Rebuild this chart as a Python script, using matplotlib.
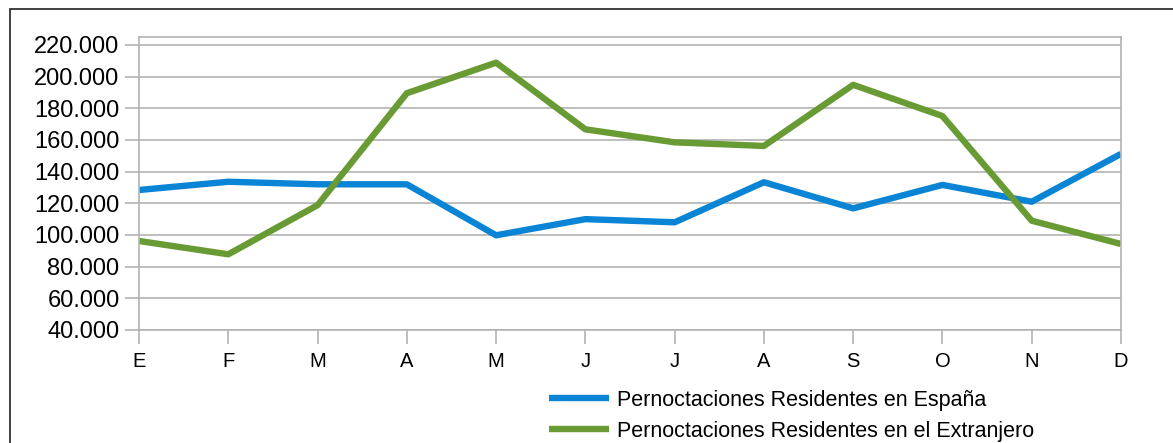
import numpy as np
import matplotlib.pyplot as plt
from matplotlib.patches import Rectangle
from matplotlib.ticker import FuncFormatter

plt.rcParams['font.family'] = ['Liberation Sans', 'DejaVu Sans']

# Data
meses = ['E', 'F', 'M', 'A', 'M', 'J', 'J', 'A', 'S', 'O', 'N', 'D']
espana = [128400, 133600, 132000, 132000, 99800, 110000, 108000, 133300, 116800, 131600, 121000, 151200]
extranjero = [96200, 87800, 118800, 189500, 208800, 166700, 158500, 156200, 194800, 175100, 109000, 94300]

azul = '#0a84d4'
verde = '#699b34'
gris = '#b3b3b3'

W, H = 1173, 443
fig = plt.figure(figsize=(W / 100, H / 100), dpi=100)
ax = fig.add_axes([139 / W, 1 - 330 / H, 982 / W, 293 / H])

x = np.arange(len(meses))
ax.plot(x, espana, color=azul, lw=4.6, solid_capstyle='butt',
        label='Pernoctaciones Residentes en España')
ax.plot(x, extranjero, color=verde, lw=4.6, solid_capstyle='butt',
        label='Pernoctaciones Residentes en el Extranjero')

ax.set_xlim(0, len(meses) - 1)
ax.set_ylim(40000, 225000)
ax.set_yticks(np.arange(40000, 220001, 20000))
ax.yaxis.set_major_formatter(FuncFormatter(lambda v, p: f'{int(v):,}'.replace(',', '.')))
ax.set_xticks(x)
ax.set_xticklabels(meses)

ax.grid(axis='y', color=gris, lw=1.2)
ax.set_axisbelow(True)
for s in ax.spines.values():
    s.set_color(gris)
    s.set_linewidth(1.2)
ax.tick_params(axis='y', length=10, width=1.2, color=gris, labelsize=17, pad=4)
ax.tick_params(axis='x', length=10, width=1.2, color=gris, labelsize=14.5, pad=6)

fig.legend(loc='upper left', bbox_to_anchor=(549 / W, 1 - 390 / H), frameon=False,
           fontsize=15.5, handlelength=2.8, handletextpad=0.37, labelspacing=0.45,
           borderaxespad=0, borderpad=0)

# marco del grafico
fig.patches.append(Rectangle((10 / W, -0.2), 1.2, 1 - 9 / H + 0.2, transform=fig.transFigure,
                             fill=False, edgecolor='#333333', lw=1.3))

fig.savefig('out.png', dpi=100)
